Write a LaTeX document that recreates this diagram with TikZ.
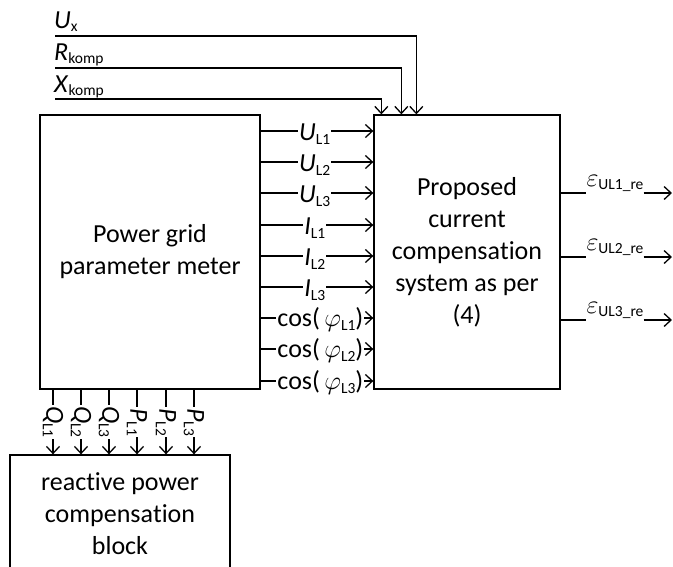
\RequirePackage{fix-cm}
\documentclass[tikz,border=0pt]{standalone}
\usepackage{fontspec}
\setmainfont{Carlito}[Ligatures=NoCommon]
\usetikzlibrary{arrows.meta,calc}
\newcommand\lsub[1]{\raisebox{-3.5pt}{\fontsize{15.5}{15.5}\selectfont #1}}
\newcommand\lvar[2]{\textit{#1}\lsub{#2}}
\newcommand\lphi[1]{cos(\,$\varphi$\lsub{#1})}
\newcommand\compword{compensa\kern0pt t\kern0pt ion}
\begin{document}
\begin{tikzpicture}[x=1pt,y=-1pt,
  blk/.style={draw,line width=1.3pt,align=center,font=\fontsize{26}{32}\selectfont,inner sep=0pt},
  ln/.style={line width=1.3pt},
  sig/.style={line width=1.3pt,-{Straight Barb[length=7pt,width=13pt]}},
  lab/.style={fill=white,inner sep=1pt,font=\fontsize{26}{26}\selectfont},
  txt/.style={inner sep=0pt,font=\fontsize{26}{26}\selectfont},
]
\clip (0,0) rectangle (673,566);
\fill[white] (0,0) rectangle (673,566);

\node[blk,minimum width=220pt,minimum height=274pt] (meter) at (150,252) {Power grid\\parameter meter};
\node[blk,minimum width=186pt,minimum height=274pt] (prop) at (467,252) {Proposed\\current\\\compword\\system as per\\(4)};
\node[blk,minimum width=220pt,minimum height=170pt] (react) at (120,540) {};
\node[align=center,font=\fontsize{26}{32}\selectfont,inner sep=0pt] (reacttxt) at (120,514) {reactive power\\\compword\\block};

% top inputs
\node[txt,anchor=base west] (uxl) at (54,28) {\lvar{U}{x}};
\node[txt,anchor=base west] (rkl) at (54,60) {\lvar{R}{komp}};
\node[txt,anchor=base west] (xkl) at (54,92) {\lvar{X}{komp}};
\coordinate (ux) at (55,36);
\coordinate (rk) at (55,68);
\coordinate (xk) at (55,99);
\draw[sig] (ux) -| ($(prop.north west)+(43,0)$);
\draw[sig] (rk) -| ($(prop.north west)+(28,0)$);
\draw[sig] (xk) -| ($(prop.north west)+(8,0)$);

% signals between boxes
\draw[sig] (meter.east|-0,131) -- (prop.west|-0,131) node[lab,pos=0.48,yshift=-3pt]{\lvar{U}{L1}};
\draw[sig] (meter.east|-0,162) -- (prop.west|-0,162) node[lab,pos=0.48,yshift=-3pt]{\lvar{U}{L2}};
\draw[sig] (meter.east|-0,193) -- (prop.west|-0,193) node[lab,pos=0.48,yshift=-3pt]{\lvar{U}{L3}};
\draw[sig] (meter.east|-0,225) -- (prop.west|-0,225) node[lab,pos=0.48,yshift=-3pt]{\lvar{I}{L1}};
\draw[sig] (meter.east|-0,256) -- (prop.west|-0,256) node[lab,pos=0.48,yshift=-3pt]{\lvar{I}{L2}};
\draw[sig] (meter.east|-0,287) -- (prop.west|-0,287) node[lab,pos=0.48,yshift=-3pt]{\lvar{I}{L3}};
\draw[sig] (meter.east|-0,318) -- (prop.west|-0,318) node[lab,pos=0.53,yshift=-2pt]{\lphi{L1}};
\draw[sig] (meter.east|-0,349) -- (prop.west|-0,349) node[lab,pos=0.53,yshift=-2pt]{\lphi{L2}};
\draw[sig] (meter.east|-0,381) -- (prop.west|-0,381) node[lab,pos=0.53,yshift=-2pt]{\lphi{L3}};

% outputs
\node[txt,anchor=base] (e1) at (615,186) {$\varepsilon$\lsub{UL1\_re}};
\node[txt,anchor=base] (e2) at (615,250) {$\varepsilon$\lsub{UL2\_re}};
\node[txt,anchor=base] (e3) at (615,313) {$\varepsilon$\lsub{UL3\_re}};
\coordinate (o1) at (672,193);
\coordinate (o2) at (672,257);
\coordinate (o3) at (672,320);
\draw[ln] (prop.east|-o1) -- (e1.west|-o1);
\draw[sig] (e1.east|-o1) -- (o1);
\draw[ln] (prop.east|-o2) -- (e2.west|-o2);
\draw[sig] (e2.east|-o2) -- (o2);
\draw[ln] (prop.east|-o3) -- (e3.west|-o3);
\draw[sig] (e3.east|-o3) -- (o3);

% bottom outputs
\foreach \x/\l/\s in {53/Q/L1, 81/Q/L2, 109/Q/L3, 137/P/L1, 166/P/L2, 194/P/L3}
  \draw[sig] (meter.south -| \x,0) -- (react.north -| \x,0) node[lab,midway,rotate=-90]{\lvar{\l}{\s}};
\end{tikzpicture}
\end{document}
